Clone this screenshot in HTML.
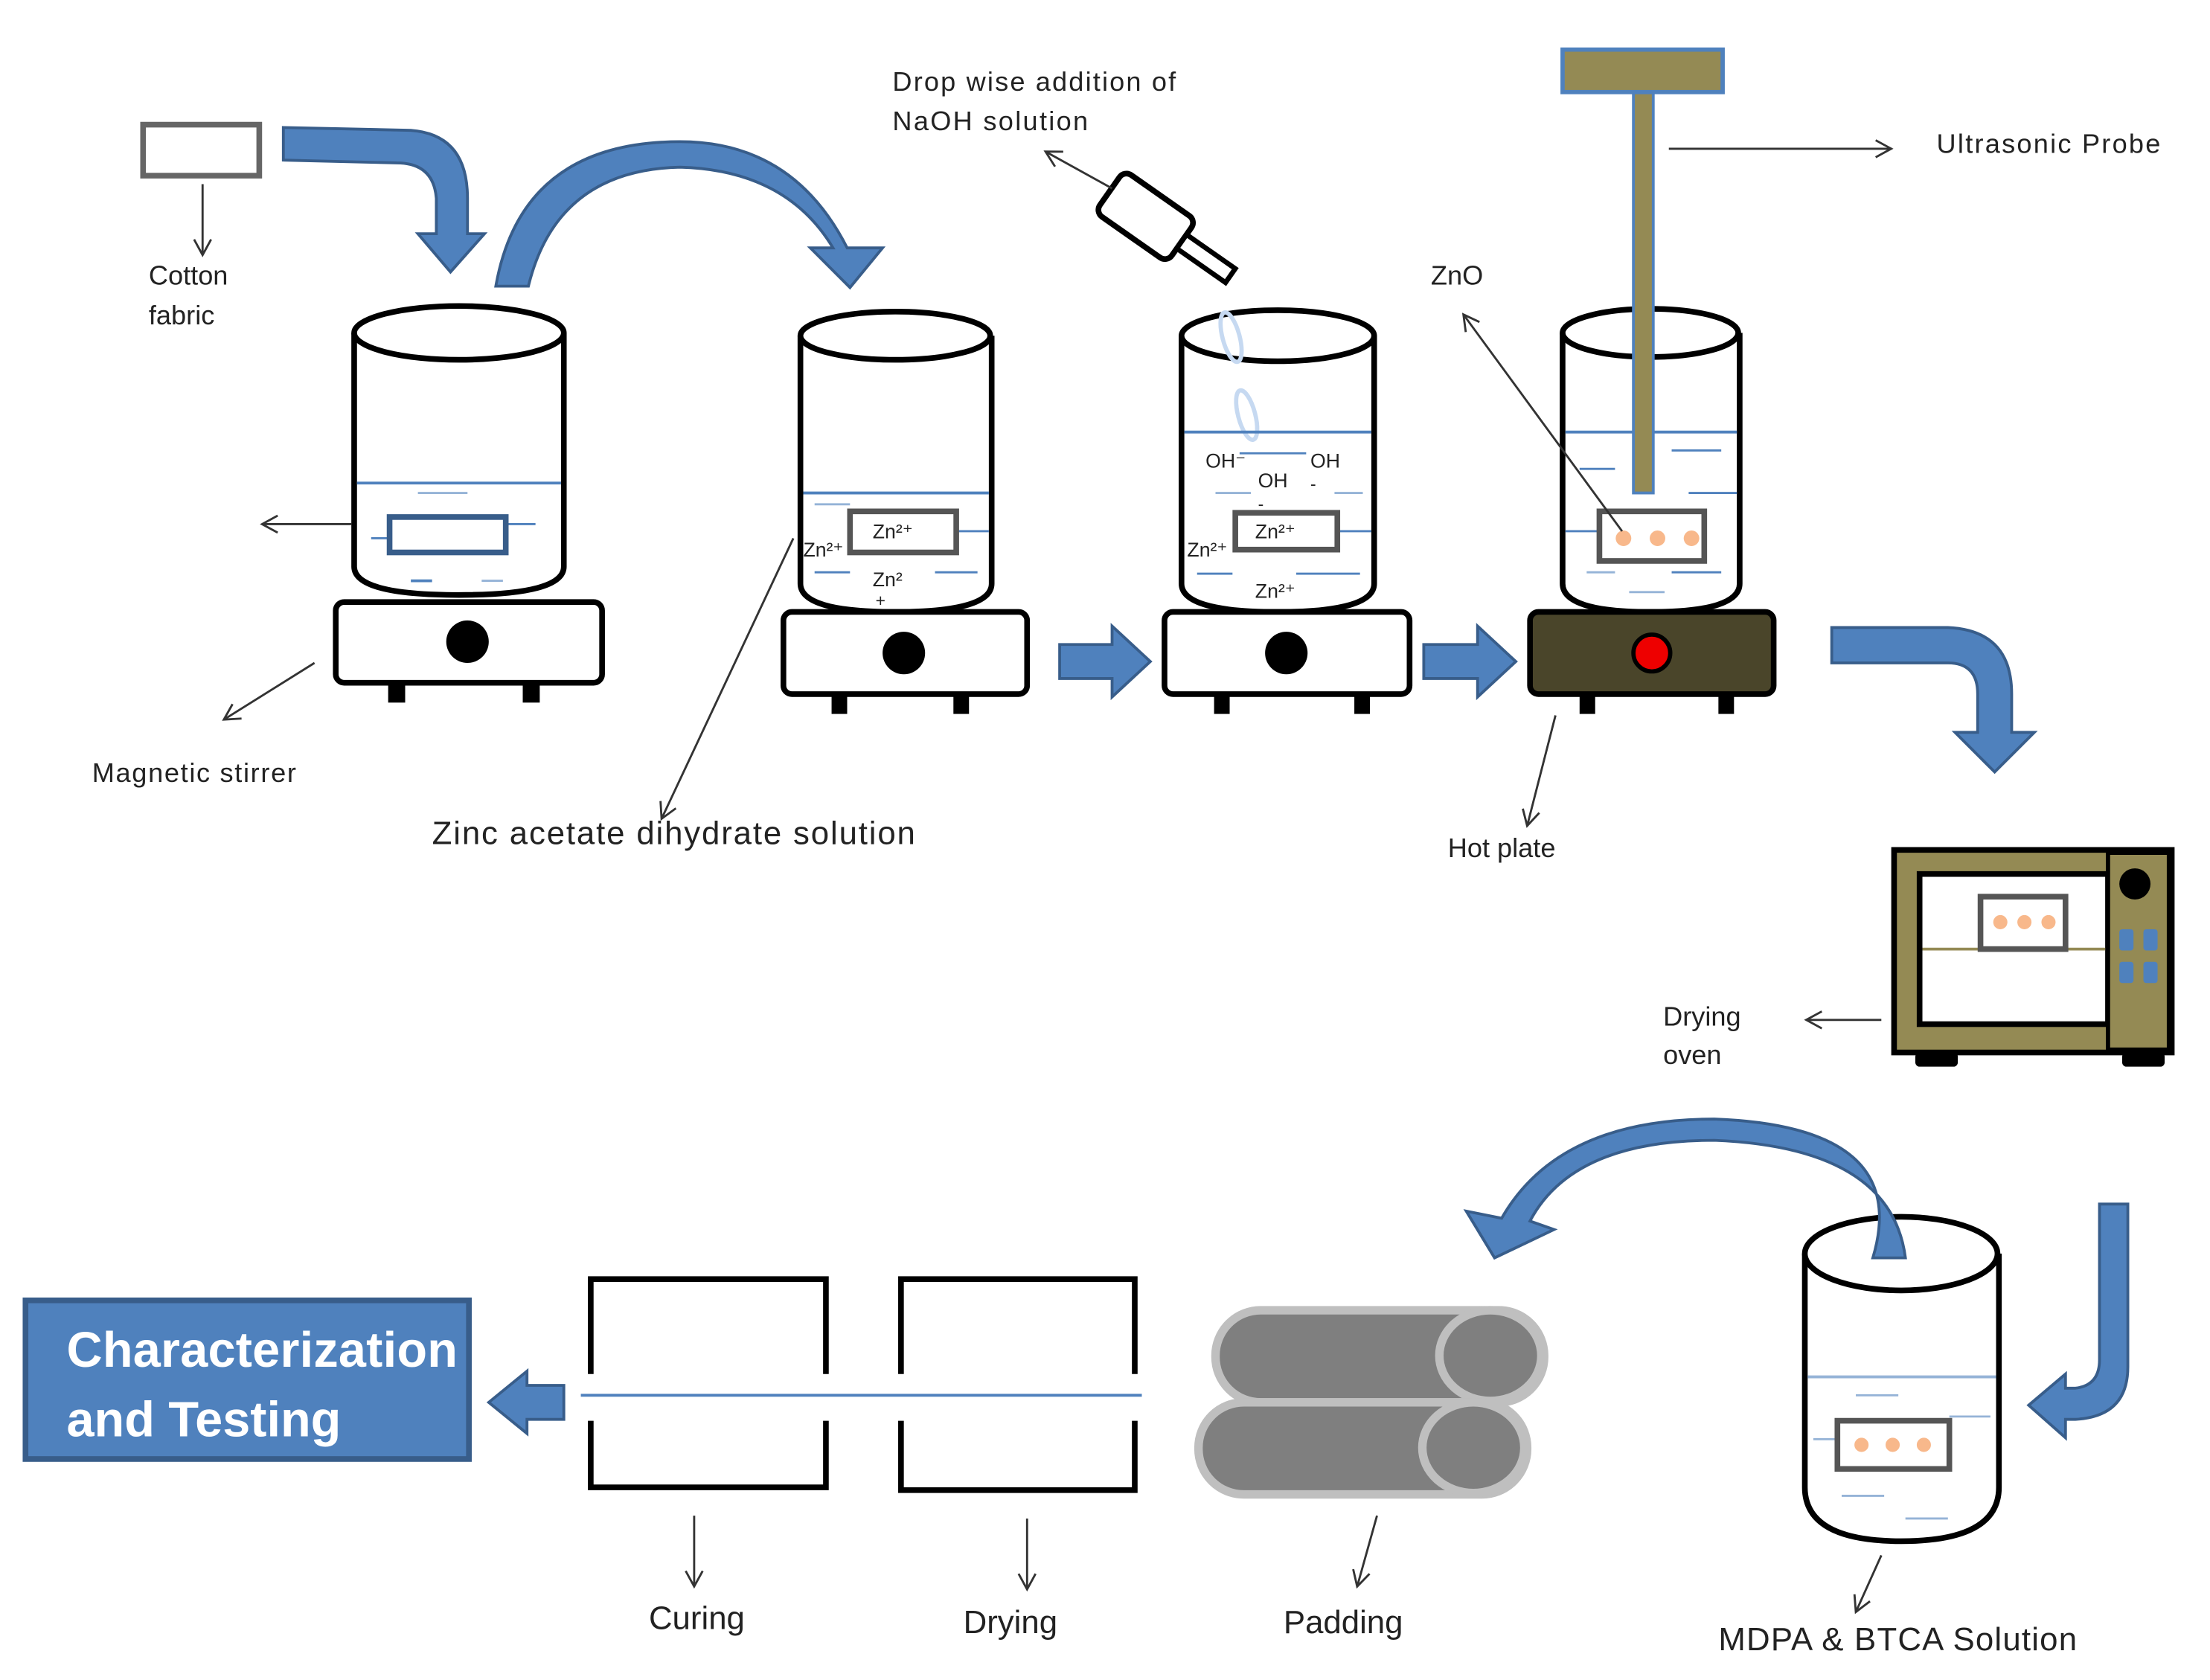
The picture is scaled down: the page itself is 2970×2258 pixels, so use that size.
<!DOCTYPE html>
<html><head><meta charset="utf-8">
<style>
html,body{margin:0;padding:0;background:#fff;}
svg{display:block;}
text{font-family:"Liberation Sans","DejaVu Sans",sans-serif;fill:#222;}
</style></head>
<body>
<svg width="2970" height="2258" viewBox="0 0 1560 1186" xmlns="http://www.w3.org/2000/svg">
<defs>
<marker id="ah" markerWidth="14" markerHeight="14" refX="12" refY="7" orient="auto" markerUnits="userSpaceOnUse">
<path d="M1,1 L12,7 L1,13" fill="none" stroke="#333" stroke-width="1.5"/>
</marker>
</defs>
<rect width="1560" height="1186" fill="#fff"/>

<!-- Cotton fabric -->
<rect x="101" y="88" width="82" height="36" fill="#fff" stroke="#666" stroke-width="4"/>
<line x1="143" y1="130" x2="143" y2="180" stroke="#333" stroke-width="1.5" marker-end="url(#ah)"/>
<text x="105" y="201" font-size="19">Cotton</text>
<text x="105" y="229" font-size="19">fabric</text>

<!-- Bent arrow 1 -->
<path d="M200,90 L290,92 Q330,95 330,140 L330,165 L342,165 L318,192 L295,165 L308,165 L308,140 Q306,115 280,115 L200,113 Z" fill="#4f81bd" stroke="#385d8a" stroke-width="2"/>

<!-- Big curved arrow 1 -->
<path d="M350,202 Q368,100 480,100 Q560,100 598,175 L623,175 L600,203 L572,175 L588,175 Q555,120 480,118 Q393,120 373,202 Z" fill="#4f81bd" stroke="#385d8a" stroke-width="2"/>

<!-- Beaker 1 -->
<path d="M250,235 L250,400 Q250,420 324,420 Q398,420 398,400 L398,235" fill="#fff" stroke="#000" stroke-width="4"/>
<ellipse cx="324" cy="235" rx="74" ry="19" fill="#fff" stroke="#000" stroke-width="4"/>
<line x1="252" y1="341" x2="396" y2="341" stroke="#4f81bd" stroke-width="2"/>
<line x1="295" y1="348" x2="330" y2="348" stroke="#95b3d7" stroke-width="1.5"/>
<line x1="262" y1="380" x2="275" y2="380" stroke="#4f81bd" stroke-width="1.5"/>
<line x1="357" y1="370" x2="378" y2="370" stroke="#4f81bd" stroke-width="1.5"/>
<line x1="290" y1="410" x2="305" y2="410" stroke="#4f81bd" stroke-width="2"/>
<line x1="340" y1="410" x2="355" y2="410" stroke="#95b3d7" stroke-width="1.5"/>
<rect x="275" y="365" width="82" height="25" fill="#fff" stroke="#385d8a" stroke-width="4"/>
<line x1="248" y1="370" x2="185" y2="370" stroke="#333" stroke-width="1.5" marker-end="url(#ah)"/>
<!-- Stirrer 1 -->
<rect x="237" y="425" width="188" height="57" rx="6" fill="#fff" stroke="#000" stroke-width="4"/>
<circle cx="330" cy="453" r="15" fill="#000"/>
<rect x="274" y="482" width="12" height="14" fill="#000"/>
<rect x="369" y="482" width="12" height="14" fill="#000"/>
<line x1="222" y1="468" x2="158" y2="508" stroke="#333" stroke-width="1.5" marker-end="url(#ah)"/>
<text x="65" y="552" font-size="19" textLength="144">Magnetic stirrer</text>

<!-- Beaker 2 -->
<path d="M565,237 L565,412 Q565,432 632,432 Q700,432 700,412 L700,237" fill="#fff" stroke="#000" stroke-width="4"/>
<ellipse cx="632" cy="237" rx="67" ry="17" fill="#fff" stroke="#000" stroke-width="4"/>
<line x1="567" y1="348" x2="698" y2="348" stroke="#4f81bd" stroke-width="2"/>
<line x1="575" y1="356" x2="600" y2="356" stroke="#95b3d7" stroke-width="1.5"/>
<line x1="675" y1="375" x2="698" y2="375" stroke="#4f81bd" stroke-width="1.5"/>
<line x1="575" y1="404" x2="600" y2="404" stroke="#4f81bd" stroke-width="1.5"/>
<line x1="660" y1="404" x2="690" y2="404" stroke="#4f81bd" stroke-width="1.5"/>
<rect x="600" y="361" width="75" height="29" fill="#fff" stroke="#555" stroke-width="4"/>
<text x="616" y="380" font-size="14">Zn²⁺</text>
<text x="567" y="393" font-size="14">Zn²⁺</text>
<text x="616" y="414" font-size="14">Zn²</text>
<text x="618" y="428" font-size="12">+</text>
<rect x="553" y="432" width="172" height="58" rx="6" fill="#fff" stroke="#000" stroke-width="4"/>
<circle cx="638" cy="461" r="15" fill="#000"/>
<rect x="587" y="490" width="11" height="14" fill="#000"/>
<rect x="673" y="490" width="11" height="14" fill="#000"/>
<line x1="560" y1="380" x2="467" y2="578" stroke="#333" stroke-width="1.5" marker-end="url(#ah)"/>
<text x="305" y="596" font-size="23" textLength="341">Zinc acetate dihydrate solution</text>

<!-- Block arrow 1 -->
<path d="M748,455 L785,455 L785,442 L812,467 L785,492 L785,479 L748,479 Z" fill="#4f81bd" stroke="#385d8a" stroke-width="2"/>

<!-- Dropper -->
<g transform="translate(812,155) rotate(35)">
<rect x="-35" y="-18" width="62" height="36" rx="6" fill="#fff" stroke="#000" stroke-width="4"/>
<rect x="27" y="-6" width="42" height="12" fill="#fff" stroke="#000" stroke-width="3.5"/>
</g>
<text x="630" y="64" font-size="19" textLength="200">Drop wise addition of</text>
<text x="630" y="92" font-size="19" textLength="138">NaOH solution</text>
<line x1="785" y1="133" x2="738" y2="107" stroke="#333" stroke-width="1.5" marker-end="url(#ah)"/>

<!-- Beaker 3 -->
<path d="M834,237 L834,412 Q834,432 902,432 Q970,432 970,412 L970,237" fill="#fff" stroke="#000" stroke-width="4"/>
<ellipse cx="902" cy="237" rx="68" ry="18" fill="#fff" stroke="#000" stroke-width="4"/>
<ellipse cx="869" cy="238" rx="6" ry="18" transform="rotate(-15 869 238)" fill="none" stroke="#c6d9f1" stroke-width="3"/>
<ellipse cx="880" cy="293" rx="6" ry="18" transform="rotate(-15 880 293)" fill="none" stroke="#c6d9f1" stroke-width="3"/>
<line x1="836" y1="305" x2="968" y2="305" stroke="#4f81bd" stroke-width="2"/>
<line x1="875" y1="320" x2="922" y2="320" stroke="#4f81bd" stroke-width="1.5"/>
<line x1="858" y1="348" x2="883" y2="348" stroke="#95b3d7" stroke-width="1.5"/>
<line x1="942" y1="348" x2="962" y2="348" stroke="#95b3d7" stroke-width="1.5"/>
<line x1="945" y1="375" x2="968" y2="375" stroke="#4f81bd" stroke-width="1.5"/>
<line x1="845" y1="405" x2="870" y2="405" stroke="#4f81bd" stroke-width="1.5"/>
<line x1="915" y1="405" x2="960" y2="405" stroke="#4f81bd" stroke-width="1.5"/>
<text x="851" y="330" font-size="14">OH⁻</text>
<text x="888" y="344" font-size="14">OH</text>
<text x="888" y="360" font-size="12">-</text>
<text x="925" y="330" font-size="14">OH</text>
<text x="925" y="346" font-size="12">-</text>
<rect x="872" y="362" width="72" height="26" fill="#fff" stroke="#555" stroke-width="4"/>
<text x="886" y="380" font-size="14">Zn²⁺</text>
<text x="838" y="393" font-size="14">Zn²⁺</text>
<text x="886" y="422" font-size="14">Zn²⁺</text>
<rect x="822" y="432" width="173" height="58" rx="6" fill="#fff" stroke="#000" stroke-width="4"/>
<circle cx="908" cy="461" r="15" fill="#000"/>
<rect x="857" y="490" width="11" height="14" fill="#000"/>
<rect x="956" y="490" width="11" height="14" fill="#000"/>

<!-- Block arrow 2 -->
<path d="M1005,455 L1043,455 L1043,442 L1070,467 L1043,492 L1043,479 L1005,479 Z" fill="#4f81bd" stroke="#385d8a" stroke-width="2"/>

<!-- Beaker 4 -->
<path d="M1103,235 L1103,412 Q1103,432 1165,432 Q1228,432 1228,412 L1228,235" fill="#fff" stroke="#000" stroke-width="4"/>
<ellipse cx="1165" cy="235" rx="62" ry="17" fill="#fff" stroke="#000" stroke-width="4"/>
<line x1="1105" y1="305" x2="1226" y2="305" stroke="#4f81bd" stroke-width="2"/>
<line x1="1180" y1="318" x2="1215" y2="318" stroke="#4f81bd" stroke-width="1.5"/>
<line x1="1115" y1="331" x2="1140" y2="331" stroke="#4f81bd" stroke-width="1.5"/>
<line x1="1192" y1="348" x2="1226" y2="348" stroke="#4f81bd" stroke-width="1.5"/>
<line x1="1105" y1="375" x2="1128" y2="375" stroke="#4f81bd" stroke-width="1.5"/>
<line x1="1120" y1="404" x2="1140" y2="404" stroke="#95b3d7" stroke-width="1.5"/>
<line x1="1180" y1="404" x2="1215" y2="404" stroke="#4f81bd" stroke-width="1.5"/>
<line x1="1150" y1="418" x2="1175" y2="418" stroke="#95b3d7" stroke-width="1.5"/>
<rect x="1129" y="361" width="74" height="35" fill="#fff" stroke="#555" stroke-width="4"/>
<circle cx="1146" cy="380" r="5.5" fill="#f8b88b"/>
<circle cx="1170" cy="380" r="5.5" fill="#f8b88b"/>
<circle cx="1194" cy="380" r="5.5" fill="#f8b88b"/>
<!-- Probe -->
<rect x="1153" y="63" width="14" height="285" fill="#948a54" stroke="#4f81bd" stroke-width="2"/>
<rect x="1103" y="35" width="113" height="30" fill="#948a54" stroke="#4f81bd" stroke-width="3"/>
<line x1="1178" y1="105" x2="1335" y2="105" stroke="#333" stroke-width="1.5" marker-end="url(#ah)"/>
<text x="1367" y="108" font-size="19" textLength="158">Ultrasonic Probe</text>
<text x="1010" y="201" font-size="19">ZnO</text>
<line x1="1145" y1="375" x2="1033" y2="222" stroke="#333" stroke-width="1.5" marker-end="url(#ah)"/>
<!-- Hot plate -->
<rect x="1080" y="432" width="172" height="58" rx="6" fill="#4a452a" stroke="#000" stroke-width="4"/>
<circle cx="1166" cy="461" r="13" fill="#e00" stroke="#000" stroke-width="3"/>
<rect x="1115" y="490" width="11" height="14" fill="#000"/>
<rect x="1213" y="490" width="11" height="14" fill="#000"/>
<line x1="1098" y1="505" x2="1078" y2="583" stroke="#333" stroke-width="1.5" marker-end="url(#ah)"/>
<text x="1022" y="605" font-size="19">Hot plate</text>

<!-- Bent arrow right-down -->
<path d="M1293,443 L1375,443 Q1420,445 1420,490 L1420,517 L1436,517 L1408,545 L1380,517 L1396,517 L1396,490 Q1396,468 1375,468 L1293,468 Z" fill="#4f81bd" stroke="#385d8a" stroke-width="2"/>

<!-- Drying oven -->
<rect x="1337" y="600" width="196" height="143" fill="#948a54" stroke="#000" stroke-width="4"/>
<rect x="1355" y="617" width="133" height="106" fill="#fff" stroke="#000" stroke-width="4"/>
<rect x="1488" y="602" width="43" height="139" fill="#948a54" stroke="#000" stroke-width="3"/>
<circle cx="1507" cy="624" r="11" fill="#000"/>
<rect x="1496" y="656" width="10" height="15" rx="2" fill="#4f81bd"/>
<rect x="1513" y="656" width="10" height="15" rx="2" fill="#4f81bd"/>
<rect x="1496" y="679" width="10" height="15" rx="2" fill="#4f81bd"/>
<rect x="1513" y="679" width="10" height="15" rx="2" fill="#4f81bd"/>
<line x1="1357" y1="670" x2="1486" y2="670" stroke="#948a54" stroke-width="2"/>
<rect x="1398" y="633" width="60" height="37" fill="#fff" stroke="#555" stroke-width="4"/>
<circle cx="1412" cy="651" r="5" fill="#f8b88b"/>
<circle cx="1429" cy="651" r="5" fill="#f8b88b"/>
<circle cx="1446" cy="651" r="5" fill="#f8b88b"/>
<rect x="1352" y="743" width="30" height="10" rx="3" fill="#000"/>
<rect x="1498" y="743" width="30" height="10" rx="3" fill="#000"/>
<line x1="1328" y1="720" x2="1275" y2="720" stroke="#333" stroke-width="1.5" marker-end="url(#ah)"/>
<text x="1174" y="724" font-size="19">Drying</text>
<text x="1174" y="751" font-size="19">oven</text>

<!-- Characterization -->
<rect x="18" y="918" width="313" height="112" fill="#4f81bd" stroke="#385d8a" stroke-width="4"/>
<text x="47" y="965" font-size="35" font-weight="bold" textLength="276" style="fill:#fff">Characterization</text>
<text x="47" y="1014" font-size="35" font-weight="bold" style="fill:#fff">and Testing</text>
<path d="M398,978 L372,978 L372,968 L345,990 L372,1012 L372,1002 L398,1002 Z" fill="#4f81bd" stroke="#385d8a" stroke-width="2"/>

<!-- Curing / Drying boxes -->
<path d="M417,970 L417,903 L583,903 L583,970 M583,1003 L583,1050 L417,1050 L417,1003" fill="none" stroke="#000" stroke-width="4"/>
<path d="M636,970 L636,903 L801,903 L801,970 M801,1003 L801,1052 L636,1052 L636,1003" fill="none" stroke="#000" stroke-width="4"/>
<line x1="410" y1="985" x2="806" y2="985" stroke="#4f81bd" stroke-width="2"/>
<line x1="490" y1="1070" x2="490" y2="1120" stroke="#333" stroke-width="1.5" marker-end="url(#ah)"/>
<line x1="725" y1="1072" x2="725" y2="1122" stroke="#333" stroke-width="1.5" marker-end="url(#ah)"/>
<text x="458" y="1150" font-size="23">Curing</text>
<text x="680" y="1153" font-size="23">Drying</text>

<!-- Padding rollers -->
<rect x="858" y="925" width="232" height="65" rx="32" fill="#7f7f7f" stroke="#bfbfbf" stroke-width="6"/>
<ellipse cx="1052" cy="957" rx="36" ry="32" fill="#7f7f7f" stroke="#bfbfbf" stroke-width="6"/>
<rect x="846" y="990" width="232" height="65" rx="32" fill="#7f7f7f" stroke="#bfbfbf" stroke-width="6"/>
<ellipse cx="1040" cy="1022" rx="36" ry="32" fill="#7f7f7f" stroke="#bfbfbf" stroke-width="6"/>
<line x1="972" y1="1070" x2="958" y2="1120" stroke="#333" stroke-width="1.5" marker-end="url(#ah)"/>
<text x="906" y="1153" font-size="23">Padding</text>

<!-- Beaker 5 -->
<path d="M1274,885 L1274,1050 Q1274,1088 1342,1088 Q1411,1088 1411,1050 L1411,885" fill="#fff" stroke="#000" stroke-width="4"/>
<ellipse cx="1342" cy="885" rx="68" ry="26" fill="#fff" stroke="#000" stroke-width="4"/>
<line x1="1276" y1="972" x2="1409" y2="972" stroke="#95b3d7" stroke-width="2"/>
<line x1="1310" y1="985" x2="1340" y2="985" stroke="#95b3d7" stroke-width="1.5"/>
<line x1="1376" y1="1000" x2="1405" y2="1000" stroke="#95b3d7" stroke-width="1.5"/>
<line x1="1280" y1="1016" x2="1297" y2="1016" stroke="#95b3d7" stroke-width="1.5"/>
<line x1="1300" y1="1056" x2="1330" y2="1056" stroke="#95b3d7" stroke-width="1.5"/>
<line x1="1345" y1="1072" x2="1375" y2="1072" stroke="#95b3d7" stroke-width="1.5"/>
<rect x="1297" y="1003" width="79" height="34" fill="#fff" stroke="#555" stroke-width="4"/>
<circle cx="1314" cy="1020" r="5" fill="#f8b88b"/>
<circle cx="1336" cy="1020" r="5" fill="#f8b88b"/>
<circle cx="1358" cy="1020" r="5" fill="#f8b88b"/>
<!-- Curved arrow 2 -->
<path d="M1345,888 Q1335,810 1210,805 Q1110,805 1080,862 L1097,868 L1055,888 L1035,855 L1060,860 Q1100,790 1210,790 Q1350,795 1322,888 Z" fill="#4f81bd" stroke="#385d8a" stroke-width="2"/>
<!-- Bent arrow left into beaker 5 -->
<path d="M1482,850 L1502,850 L1502,965 Q1502,1000 1465,1002 L1458,1002 L1458,1015 L1432,992 L1458,970 L1458,980 L1465,980 Q1482,978 1482,960 Z" fill="#4f81bd" stroke="#385d8a" stroke-width="2"/>
<line x1="1328" y1="1098" x2="1310" y2="1138" stroke="#333" stroke-width="1.5" marker-end="url(#ah)"/>
<text x="1213" y="1165" font-size="23" textLength="253">MDPA &amp; BTCA Solution</text>
</svg>
</body></html>
